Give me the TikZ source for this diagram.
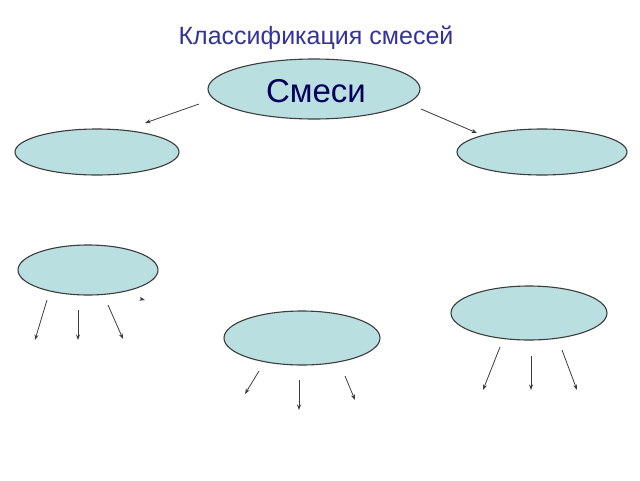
\documentclass[tikz,border=0pt]{standalone}
\usepackage{fontspec}
\setmainfont{Liberation Sans}
\usetikzlibrary{arrows.meta,shapes.geometric}
\definecolor{fillblue}{HTML}{BADFE1}
\definecolor{edgegray}{HTML}{3C3C3C}
\definecolor{titleblue}{HTML}{333399}
\definecolor{navy}{HTML}{00005A}
\tikzset{
  oval/.style={ellipse, draw=edgegray, line width=1.1pt, fill=fillblue, inner sep=0pt},
  arr/.style={draw=edgegray, line width=0.8pt, -{Stealth[length=5.5pt,width=4pt]}},
}
\begin{document}
\begin{tikzpicture}[x=1pt,y=-1pt]
\useasboundingbox (0,0) rectangle (640,480);
\node[text=titleblue, font=\fontsize{25}{30}\selectfont] (title) at (316,38) {Классификация смесей};
\node[oval, minimum width=212pt, minimum height=60pt] (top) at (314,89) {};
\node[text=navy, font=\fontsize{33}{38}\selectfont] (toptext) at (316,91) {Смеси};
\node[oval, minimum width=164pt, minimum height=46pt] (left) at (97,152) {};
\node[oval, minimum width=170pt, minimum height=46pt] (right) at (542,152) {};
\node[oval, minimum width=140pt, minimum height=50pt] (ll) at (88,270) {};
\node[oval, minimum width=156pt, minimum height=54pt] (mid) at (302,338) {};
\node[oval, minimum width=156pt, minimum height=54pt] (rr) at (529,313) {};
% top arrows
\coordinate (a1s) at (199,104); \coordinate (a1e) at (145,123);
\coordinate (a2s) at (421,109); \coordinate (a2e) at (477,133);
\draw[arr] (a1s) -- (a1e);
\draw[arr] (a2s) -- (a2e);
% lower-left arrows
\coordinate (b1s) at (47,300); \coordinate (b1e) at (35,340);
\coordinate (b2s) at (78,310); \coordinate (b2e) at (78,340);
\coordinate (b3s) at (108,305); \coordinate (b3e) at (123,339);
\coordinate (b4s) at (140,298.8); \coordinate (b4e) at (145,300);
\draw[arr] (b1s) -- (b1e);
\draw[arr] (b2s) -- (b2e);
\draw[arr] (b3s) -- (b3e);
\draw[arr] (b4s) -- (b4e);
% middle arrows
\coordinate (c1s) at (259,371); \coordinate (c1e) at (245,394);
\coordinate (c2s) at (299,380); \coordinate (c2e) at (299,410);
\coordinate (c3s) at (345,376); \coordinate (c3e) at (355,400);
\draw[arr] (c1s) -- (c1e);
\draw[arr] (c2s) -- (c2e);
\draw[arr] (c3s) -- (c3e);
% right arrows
\coordinate (d1s) at (500,347); \coordinate (d1e) at (483,390);
\coordinate (d2s) at (531,356); \coordinate (d2e) at (531,390);
\coordinate (d3s) at (562,350); \coordinate (d3e) at (577,390);
\draw[arr] (d1s) -- (d1e);
\draw[arr] (d2s) -- (d2e);
\draw[arr] (d3s) -- (d3e);
\end{tikzpicture}
\end{document}
